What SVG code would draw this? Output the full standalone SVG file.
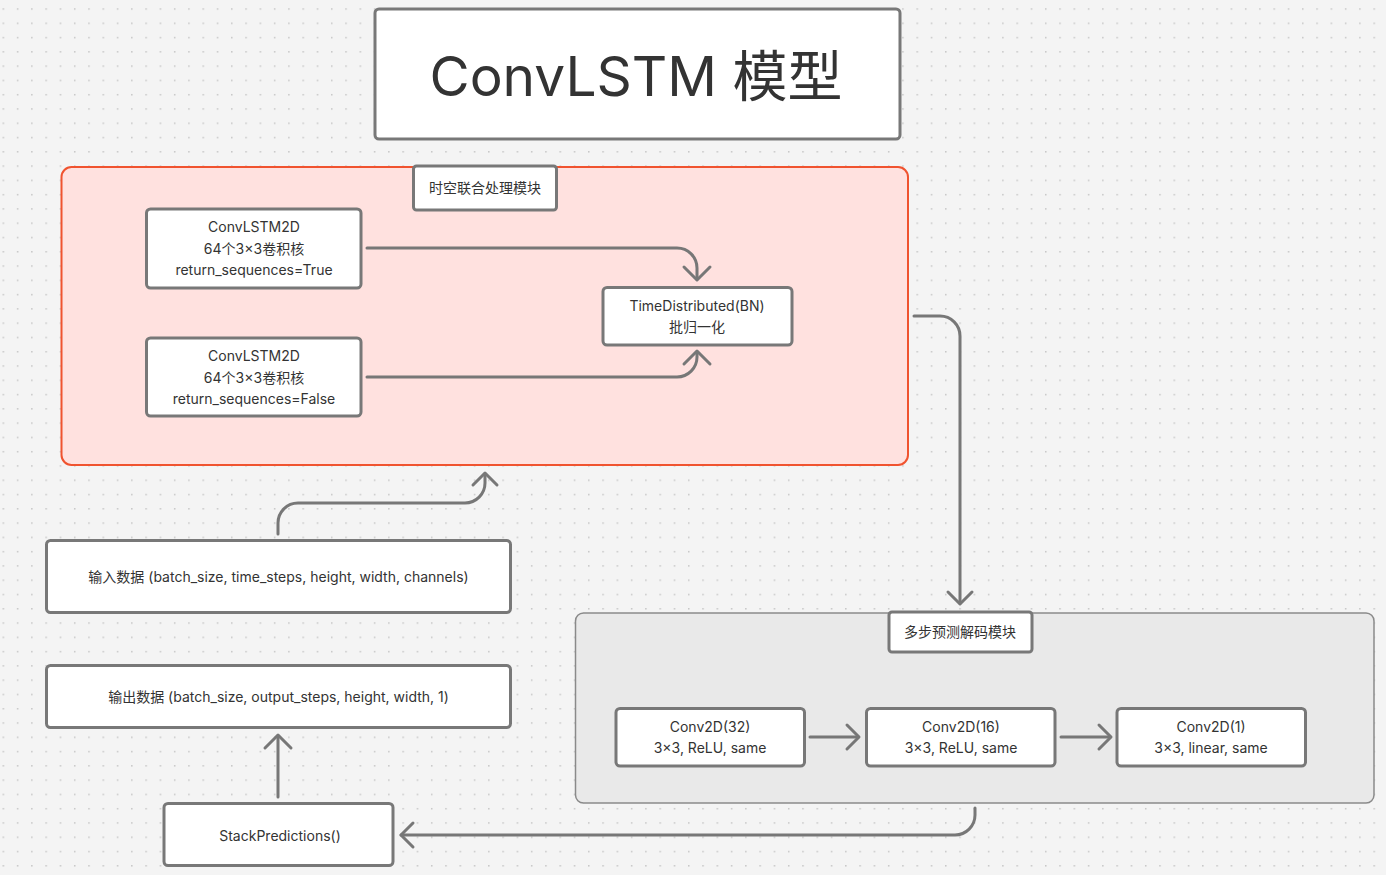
<svg xmlns="http://www.w3.org/2000/svg" width="1386" height="875" viewBox="0 0 1386 875">
<style>
.node{fill:#ffffff;stroke:#787878;stroke-width:3}
.t{font-family:Inter,"Noto Sans CJK SC",sans-serif;font-size:14px;fill:#333333;text-anchor:middle}
.lbl{font-family:Inter,"Noto Sans CJK SC",sans-serif;font-size:14px;fill:#333333;text-anchor:middle}
.c{fill:none;stroke:#777777;stroke-width:3;stroke-linecap:round;stroke-linejoin:round}
</style>
<defs>
<pattern id="dots" patternUnits="userSpaceOnUse" x="2.55" y="8.25" width="14.28" height="14.28">
<rect x="0" y="0" width="1.5" height="1.5" fill="#c6c6c6"/>
</pattern>
</defs>
<rect width="1386" height="875" fill="#f4f4f4"/>
<rect width="1386" height="875" fill="url(#dots)"/>

<g id="group-spatiotemporal">
<rect x="61.5" y="167" width="846.5" height="298" rx="10" fill="#ffe1df" stroke="#f0532f" stroke-width="2"/>
</g>
<g id="group-decoder">
<rect x="575.5" y="613" width="798.5" height="190" rx="8" fill="#e9e9e9" stroke="#8a8a8a" stroke-width="1.5"/>
</g>

<g id="title">
<rect class="node" x="375" y="9" width="525" height="130" rx="4"/>
<text x="636" y="95.5" style="font-family:Inter,'Noto Sans CJK SC',sans-serif;font-size:55px;fill:#333333;text-anchor:middle">ConvLSTM 模型</text>
</g>

<g id="label-spatiotemporal">
<rect class="node" x="413.5" y="166" width="143" height="44" rx="3"/>
<text class="lbl" x="485" y="193">时空联合处理模块</text>
</g>

<g id="convlstm1">
<rect class="node" x="146.5" y="209" width="214.5" height="79" rx="4"/>
<text class="t" x="254" y="232">ConvLSTM2D</text>
<text class="t" x="254" y="253.5">64个3×3卷积核</text>
<text class="t" x="254" y="275">return_sequences=True</text>
</g>

<g id="convlstm2">
<rect class="node" x="146.5" y="338" width="214.5" height="78" rx="4"/>
<text class="t" x="254" y="361">ConvLSTM2D</text>
<text class="t" x="254" y="382.5">64个3×3卷积核</text>
<text class="t" x="254" y="404">return_sequences=False</text>
</g>

<g id="timedistributed">
<rect class="node" x="603" y="287.5" width="189" height="57.5" rx="4"/>
<text class="t" x="697" y="310.5">TimeDistributed(BN)</text>
<text class="t" x="697" y="331.5">批归一化</text>
</g>

<g id="label-decoder">
<rect class="node" x="889" y="612" width="143" height="40" rx="3"/>
<text class="lbl" x="960" y="637">多步预测解码模块</text>
</g>

<g id="conv32">
<rect class="node" x="616" y="708.5" width="188.5" height="57.5" rx="4"/>
<text class="t" x="710" y="731.5">Conv2D(32)</text>
<text class="t" x="710" y="753">3×3, ReLU, same</text>
</g>

<g id="conv16">
<rect class="node" x="866.5" y="708.5" width="188.5" height="57.5" rx="4"/>
<text class="t" x="961" y="731.5">Conv2D(16)</text>
<text class="t" x="961" y="753">3×3, ReLU, same</text>
</g>

<g id="conv1">
<rect class="node" x="1117" y="708.5" width="188.5" height="57.5" rx="4"/>
<text class="t" x="1211" y="731.5">Conv2D(1)</text>
<text class="t" x="1211" y="753">3×3, linear, same</text>
</g>

<g id="input">
<rect class="node" x="46.5" y="540.5" width="464" height="72" rx="4"/>
<text class="t" x="278.5" y="582">输入数据 (batch_size, time_steps, height, width, channels)</text>
</g>

<g id="output">
<rect class="node" x="46.5" y="665.5" width="464" height="62" rx="4"/>
<text class="t" x="278.5" y="702">输出数据 (batch_size, output_steps, height, width, 1)</text>
</g>

<g id="stackpredictions">
<rect class="node" x="164" y="803.5" width="229" height="62" rx="4"/>
<text class="t" x="280" y="840.5">StackPredictions()</text>
</g>

<g id="connectors">
<path class="c" d="M367,248 H677 A20,20 0 0 1 697,268 V279"/>
<path class="c" d="M684,267 L697,280 L710,267"/>
<path class="c" d="M367,377 H677 A20,20 0 0 0 697,357 V352"/>
<path class="c" d="M684,364 L697,351 L710,364"/>
<path class="c" d="M914,316 H940 A20,20 0 0 1 960,336 V603"/>
<path class="c" d="M948,592 L960,604 L972,592"/>
<path class="c" d="M810,737 H858"/>
<path class="c" d="M847,725 L859,737 L847,749"/>
<path class="c" d="M1061,737 H1110"/>
<path class="c" d="M1099,725 L1111,737 L1099,749"/>
<path class="c" d="M975,808 V815 A20,20 0 0 1 955,835 H401"/>
<path class="c" d="M413,823 L401,835 L413,847"/>
<path class="c" d="M278,797 V736"/>
<path class="c" d="M265,748 L278,735 L291,748"/>
<path class="c" d="M278,534 V523 A20,20 0 0 1 298,503 H465 A20,20 0 0 0 485,483 V474"/>
<path class="c" d="M473,485 L485,473 L497,485"/>
</g>
</svg>
